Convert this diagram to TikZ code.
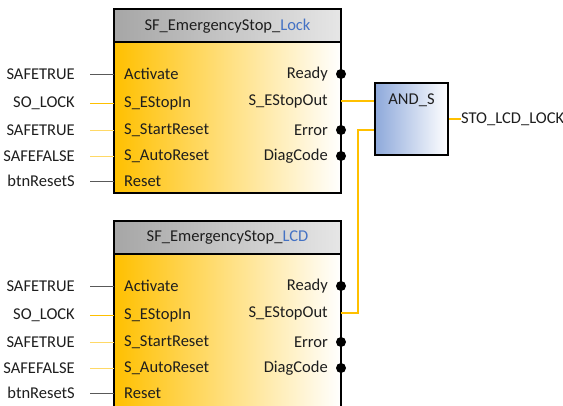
\documentclass[tikz,border=0pt]{standalone}
\usepackage{fontspec}
\setmainfont{Carlito}
\usetikzlibrary{calc}
\definecolor{sfgold}{HTML}{FFC000}
\definecolor{sfpale}{HTML}{FFD966}
\definecolor{sfgray}{HTML}{595959}
\definecolor{sftext}{HTML}{1E1E1E}
\definecolor{sfblue}{HTML}{4472C4}
\definecolor{hdrdark}{HTML}{A6A6A6}
\definecolor{hdrlight}{HTML}{E6E6E6}
\definecolor{andblue}{HTML}{8EA9DB}
\tikzstyle{pinlbl}=[anchor=east, inner sep=0pt]
\tikzstyle{inlbl}=[anchor=west, inner sep=0pt]
\tikzstyle{outlbl}=[anchor=east, inner sep=0pt]
\tikzstyle{outdot}=[circle, fill=black, inner sep=0pt, minimum size=10pt]
\tikzstyle{conn}=[sfgold, line width=2pt]
\tikzstyle{andbox}=[rectangle, draw=black, line width=1.6pt, left color=andblue, right color=white, minimum width=73pt, minimum height=72pt]
\tikzset{x=1pt, y=-1pt}

\begin{document}
\begin{tikzpicture}[font=\fontsize{16.5}{19}\selectfont, text=sftext]
\clip (0,0) rectangle (563,405);

\foreach \blk/\nm/\top/\bot in {lock/Lock/9/193, lcd/LCD/221/420} {
	% header and body
	\shade[left color=hdrdark, right color=hdrlight] (114,\top) rectangle (341,\top+33);
	\shade[left color=sfgold, right color=white] (114,\top+33) rectangle (341,\bot);
	\draw[line width=1.6pt] (114,\top) rectangle (341,\bot);
	\draw[line width=1.6pt] (114,\top+33) -- (341,\top+33);
	\node (\blk-title) at (227.5,\top+17) {SF\_EmergencyStop\_\textcolor{sfblue}{\nm}};

	% inputs
	\foreach \lbl/\sig/\dy/\col [count=\i] in {Activate/SAFETRUE/65/sfgray, S\_EStopIn/SO\_LOCK/94/sfgold, S\_StartReset/SAFETRUE/121/sfpale, S\_AutoReset/SAFEFALSE/147/sfpale, Reset/btnResetS/172/sfgray} {
		\node[pinlbl] (\blk-sig\i) at (75,\top+\dy) {\sig};
		\node[inlbl] (\blk-in\i) at (124,\top+\dy) {\lbl};
		\coordinate (\blk-pin\i) at (114,\top+\dy);
		\draw[\col, line width=0.9pt] (\blk-pin\i) -- ($(\blk-sig\i.east)+(15,0)$);
	}

	% outputs
	\foreach \lbl/\dy [count=\i] in {Ready/65, S\_EStopOut/92, Error/121, DiagCode/147} {
		\node[outlbl] (\blk-olbl\i) at (328,\top+\dy) {\lbl};
		\coordinate (\blk-out\i) at (341,\top+\dy);
	}
	\foreach \i in {1,3,4}
		\node[outdot] (\blk-dot\i) at (\blk-out\i) {};
}

\node[andbox] (andS) at (411.5,119) {};
\node (andLbl) at ($(andS.north)+(0,18)$) {AND\_S};
\coordinate (andIn1) at (andS.west |- lock-out2);
\coordinate (andIn2) at ($(andS.west)+(0,11)$);
\draw[conn] (lock-out2) -- (andIn1);
\draw[conn] (lcd-out2) -- ++(17,0) |- (andIn2);
\node[anchor=west, inner sep=0pt] (sto) at (461,119) {STO\_LCD\_LOCK};
\draw[conn] (andS.east) -- (sto.west);

\end{tikzpicture}
\end{document}
